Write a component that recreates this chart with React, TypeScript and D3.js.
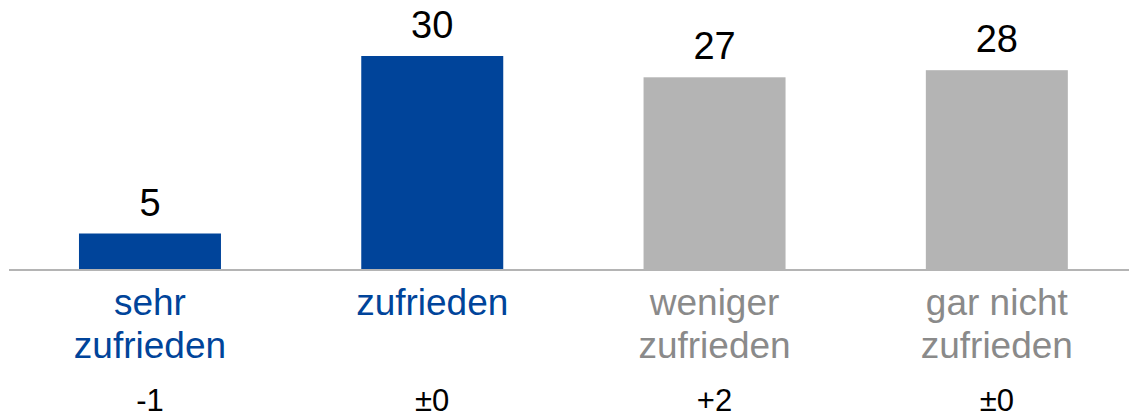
import React from 'react';
import * as d3 from 'd3';

const width = 1129;
const height = 419;
const baseY = 269;

const categories = [['sehr', 'zufrieden'], ['zufrieden'], ['weniger', 'zufrieden'], ['gar nicht', 'zufrieden']];
const values = [5, 30, 27, 28];
const changes = ['-1', '±0', '+2', '±0'];
const highlighted = [true, true, false, false];

const blue = '#00449a';
const greyBar = '#b4b4b4';
const greyText = '#8a8a8a';
const font = '"Liberation Sans", Arial, sans-serif';

export default function App() {
  const keys = categories.map((c, i) => String(i));
  const x = d3.scaleBand().domain(keys).range([8.4, 1138.4]).paddingInner(0.497).paddingOuter(0.25);
  const y = d3.scaleLinear().domain([0, 30]).range([baseY, 56]);

  return (
    <svg width={width} height={height} style={{ position: 'absolute', left: 0, top: 0 }} fontFamily={font}>
      {values.map((v, i) => {
        const bx = x(keys[i]) as number;
        const cx = bx + x.bandwidth() / 2;
        return (
          <g key={i}>
            <rect x={bx} y={y(v)} width={x.bandwidth()} height={baseY - y(v)} fill={highlighted[i] ? blue : greyBar} />
            <text x={cx} y={y(v) - 18} textAnchor="middle" fontSize={38} fill="#000">
              {v}
            </text>
            {categories[i].map((line, j) => (
              <text key={j} x={cx} y={315 + j * 43} textAnchor="middle" fontSize={37} fill={highlighted[i] ? blue : greyText}>
                {line}
              </text>
            ))}
            <text x={cx} y={411} textAnchor="middle" fontSize={31} fill="#000">
              {changes[i]}
            </text>
          </g>
        );
      })}
      <line x1={9} x2={width} y1={baseY + 1} y2={baseY + 1} stroke={greyBar} strokeWidth={2} />
    </svg>
  );
}
